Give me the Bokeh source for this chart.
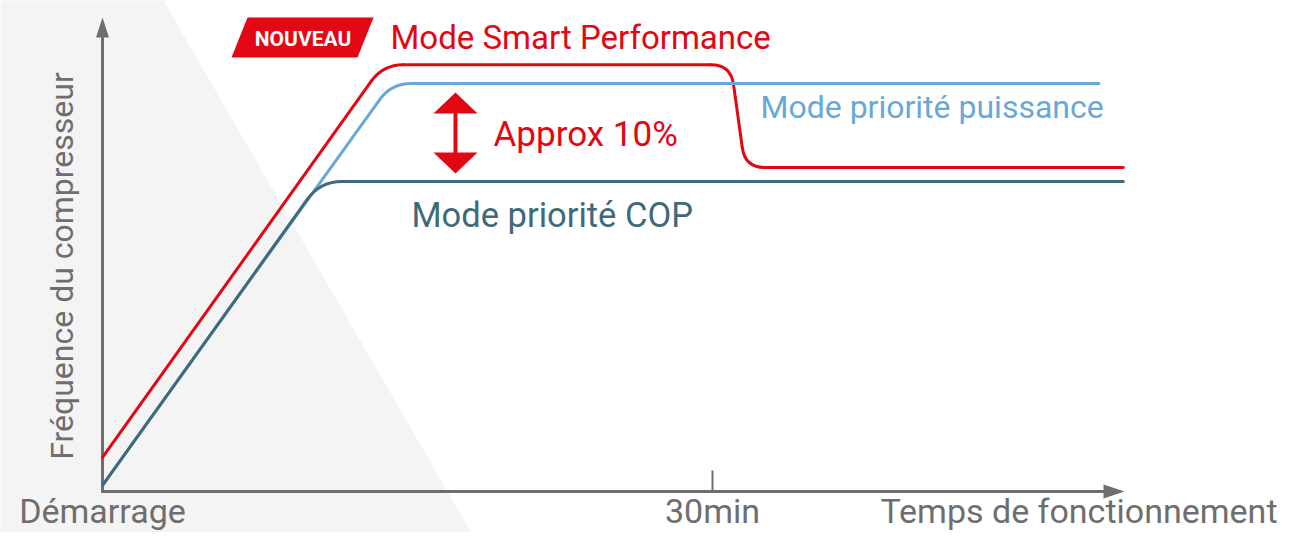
import math
from bokeh.plotting import figure
from bokeh.models import Range1d
from bokeh.core.properties import value
from bokeh.embed import file_html
from bokeh.resources import INLINE

# ---------------- data ----------------
# time in minutes, compressor frequency in relative units (COP plateau = 100)
smart_t = [0.0, 13.8, 30.9, 31.6, 50.2]
smart_f = [11.0, 137.7, 137.7, 104.5, 104.5]

power_t = [0.0, 14.2, 49.0]
power_f = [2.0, 131.6, 131.6]

cop_t = [0.0, 10.7, 50.2]
cop_f = [2.0, 100.0, 100.0]

tick_minutes = [30]
tick_labels = ["30min"]

series_labels = ["Mode Smart Performance", "Mode priorité puissance", "Mode priorité COP"]
badge_label = "NOUVEAU"
gap_label = "Approx 10%"
x_start_label = "Démarrage"
x_end_label = "Temps de fonctionnement"
y_label = "Fréquence du compresseur"

# ---------------- styles ----------------
RED = "#e30613"
BLUE = "#68a8d7"
TEAL = "#3e6a7a"
GRAY = "#6e6e6e"
BG = "#f4f4f4"
FONT = value("Roboto")

W, H = 1278, 532
PX_PER_MIN = 610 / 30.0
PX_PER_UNIT = 3.1
X0_PAGE, Y0_PAGE = 102, 491


def px2x(px):
    return (px - X0_PAGE) / PX_PER_MIN


def py2y(py):
    return (Y0_PAGE - py) / PX_PER_UNIT


def mid(baseline_px, size_px):
    # convert a desired alphabetic baseline (pixels) into a "middle" anchor
    return baseline_px - 0.355 * size_px


p = figure(width=W, height=H, output_backend="svg", toolbar_location=None,
           x_range=Range1d(px2x(0), px2x(W)),
           y_range=Range1d(py2y(H), py2y(0)),
           min_border=0, border_fill_color="white", background_fill_color="white")
p.axis.visible = False
p.grid.visible = False
p.outline_line_color = None

# background diagonal shape
bg_px = [(-20, -20), (163, 0), (480, 548), (-20, 560)]
p.patch([px2x(a) for a, b in bg_px], [py2y(b) for a, b in bg_px], fill_color=BG, line_color=None)


def rounded_line(xs, ys, color, r=18, width=3):
    pts = [(x * PX_PER_MIN, y * PX_PER_UNIT) for x, y in zip(xs, ys)]
    sx0, sy0, sx1, sy1 = [], [], [], []
    qx0, qy0, qx1, qy1, qcx, qcy = [], [], [], [], [], []
    cur = pts[0]
    for i in range(1, len(pts) - 1):
        vx, vy = pts[i]
        px_, py_ = pts[i - 1]
        nx, ny = pts[i + 1]
        l1 = math.hypot(px_ - vx, py_ - vy)
        l2 = math.hypot(nx - vx, ny - vy)
        rr = min(r, l1 / 2.0, l2 / 2.0)
        a = (vx + (px_ - vx) / l1 * rr, vy + (py_ - vy) / l1 * rr)
        b = (vx + (nx - vx) / l2 * rr, vy + (ny - vy) / l2 * rr)
        sx0.append(cur[0]); sy0.append(cur[1]); sx1.append(a[0]); sy1.append(a[1])
        qx0.append(a[0]); qy0.append(a[1]); qx1.append(b[0]); qy1.append(b[1])
        qcx.append(vx); qcy.append(vy)
        cur = b
    sx0.append(cur[0]); sy0.append(cur[1]); sx1.append(pts[-1][0]); sy1.append(pts[-1][1])
    fx = lambda L: [v / PX_PER_MIN for v in L]
    fy = lambda L: [v / PX_PER_UNIT for v in L]
    p.segment(fx(sx0), fy(sy0), fx(sx1), fy(sy1), line_color=color, line_width=width, line_cap="round")
    p.quadratic(x0=fx(qx0), y0=fy(qy0), x1=fx(qx1), y1=fy(qy1), cx=fx(qcx), cy=fy(qcy),
                line_color=color, line_width=width, line_cap="round")


# axes
p.segment([0], [py2y(492.5)], [0], [py2y(36)], line_color=GRAY, line_width=3)
p.patch([-6.5 / PX_PER_MIN, 0, 6.5 / PX_PER_MIN], [py2y(37), py2y(17), py2y(37)],
        fill_color=GRAY, line_color=None)
p.segment([px2x(100.5)], [0], [px2x(1104)], [0], line_color=GRAY, line_width=3)
p.patch([px2x(1103), px2x(1124), px2x(1103)], [7 / PX_PER_UNIT, 0, -7 / PX_PER_UNIT],
        fill_color=GRAY, line_color=None)
p.segment(tick_minutes, [0] * len(tick_minutes), tick_minutes, [21 / PX_PER_UNIT] * len(tick_minutes),
          line_color=GRAY, line_width=2)

# series
rounded_line(smart_t, smart_f, RED, r=20)
rounded_line(power_t, power_f, BLUE, r=20)
rounded_line(cop_t, cop_f, TEAL, r=22)

# double arrow between power and COP plateaus
ax = px2x(455)
top_tip = power_f[1] - 9 / PX_PER_UNIT
bot_tip = cop_f[1] + 8 / PX_PER_UNIT
hw = 22 / PX_PER_MIN
hh = 21 / PX_PER_UNIT
p.patches([[ax - hw, ax, ax + hw], [ax - hw, ax, ax + hw]],
          [[top_tip - hh, top_tip, top_tip - hh], [bot_tip + hh, bot_tip, bot_tip + hh]],
          fill_color=RED, line_color=None)
p.segment([ax], [top_tip - hh + 0.3], [ax], [bot_tip + hh - 0.3], line_color=RED, line_width=4)

# badge
badge_px = [(247, 17), (373, 17), (357, 57), (231, 57)]
p.patch([px2x(a) for a, b in badge_px], [py2y(b) for a, b in badge_px], fill_color=RED, line_color=None)
p.text(x=[px2x(302.5)], y=[py2y(mid(45.5, 21))], text=[badge_label], text_font=FONT, text_font_size="21px",
       text_font_style="bold", text_color="white", text_align="center", text_baseline="middle")

# series labels
p.text(x=[px2x(390)], y=[py2y(mid(48.5, 33))], text=[series_labels[0]], text_font=FONT, text_font_size="33px",
       text_color=RED, text_align="left", text_baseline="middle")
p.text(x=[px2x(760)], y=[py2y(mid(118, 32))], text=[series_labels[1]], text_font=FONT, text_font_size="32px",
       text_color=BLUE, text_align="left", text_baseline="middle")
p.text(x=[px2x(411)], y=[py2y(mid(226.5, 34.5))], text=[series_labels[2]], text_font=FONT,
       text_font_size="34.5px", text_color=TEAL, text_align="left", text_baseline="middle")
p.text(x=[px2x(493)], y=[py2y(mid(146.5, 35))], text=[gap_label], text_font=FONT, text_font_size="35px",
       text_color=RED, text_align="left", text_baseline="middle")

# axis texts
BS = 34
BOTTOM_BASE = 523
p.text(x=[0], y=[py2y(mid(BOTTOM_BASE, BS))], text=[x_start_label], text_font=FONT,
       text_font_size=f"{BS}px", text_color=GRAY, text_align="center", text_baseline="middle")
p.text(x=tick_minutes, y=[py2y(mid(BOTTOM_BASE, BS))] * len(tick_minutes), text=tick_labels, text_font=FONT,
       text_font_size=f"{BS}px", text_color=GRAY, text_align="center", text_baseline="middle")
p.text(x=[px2x(1277)], y=[py2y(mid(BOTTOM_BASE, BS))], text=[x_end_label], text_font=FONT,
       text_font_size=f"{BS}px", text_color=GRAY, text_align="right", text_baseline="middle")
p.text(x=[px2x(73 - 0.355 * 32)], y=[py2y(265.5)], text=[y_label], text_font=FONT, text_font_size="32px",
       text_color=GRAY, text_align="center", text_baseline="middle", angle=math.pi / 2)

open("out.html", "w").write(file_html(p, INLINE))
